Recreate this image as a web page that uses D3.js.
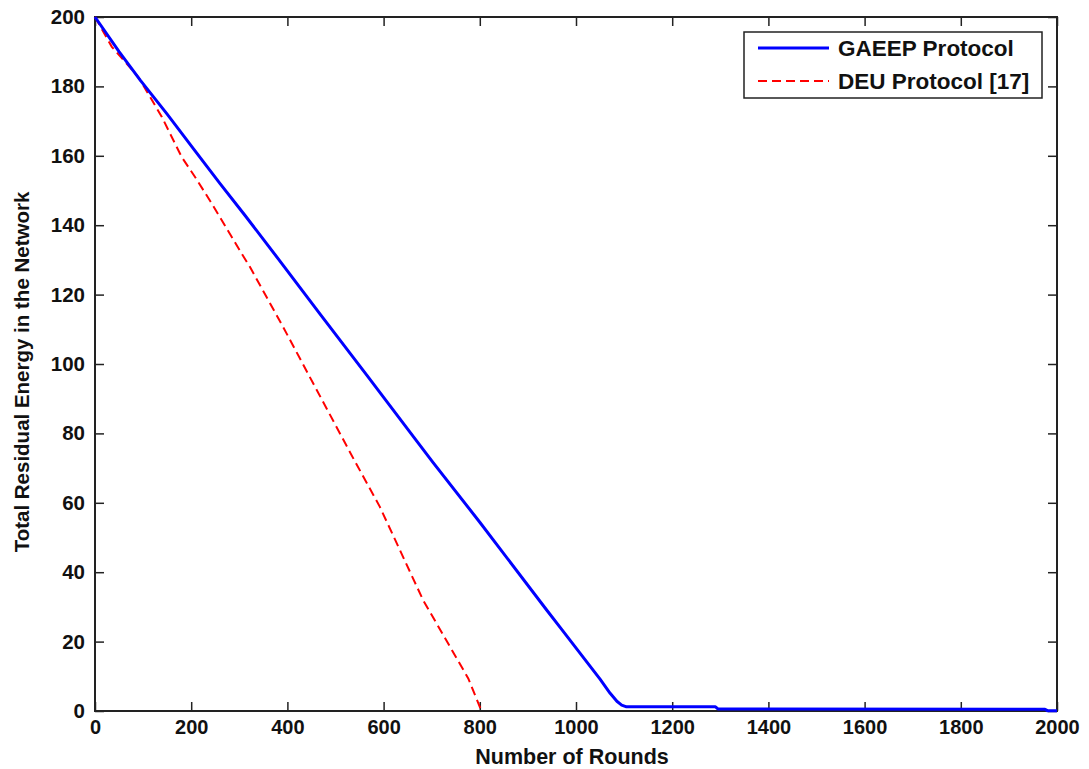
<!DOCTYPE html>
<html>
<head>
<meta charset="utf-8">
<script src="https://cdn.jsdelivr.net/npm/d3@7"></script>
<style>
  html, body { margin: 0; padding: 0; background: #fff; }
  svg text { font-family: "Liberation Sans", Arial, sans-serif; font-weight: bold; fill: #111; }
</style>
</head>
<body>
<svg id="chart" width="1089" height="769"></svg>
<script>
// Total residual energy vs. rounds for the two protocols
const seriesNames = ["GAEEP Protocol", "DEU Protocol [17]"];
const gaeepRounds = [0, 50, 94, 150, 208, 260, 312, 381, 468, 565, 669, 703, 800, 939, 967, 1050, 1071, 1085, 1095, 1105, 1290, 1295, 1975, 1980, 2000];
const gaeepEnergy = [200, 190, 181.8, 172, 161.4, 152, 142.8, 130.3, 114.4, 96.8, 77.8, 71.6, 54.4, 29.1, 24.1, 9.2, 5.1, 2.8, 1.7, 1.2, 1.2, 0.6, 0.5, 0.1, 0.1];
const deuRounds = [0, 35, 90, 139, 180, 208, 243, 305, 322, 391, 461, 537, 592, 682, 776, 800, 803];
const deuEnergy = [200, 191.4, 182.7, 171.2, 159.7, 153.9, 146.2, 131.8, 128, 110.7, 92.5, 72.8, 58.9, 32, 9.4, 1.2, 0];
const xTicks = [0, 200, 400, 600, 800, 1000, 1200, 1400, 1600, 1800, 2000];
const yTicks = [0, 20, 40, 60, 80, 100, 120, 140, 160, 180, 200];

const svg = d3.select("#chart");
const plotLeft = 95, plotTop = 17, plotRight = 1057, plotBottom = 711;

const x = d3.scaleLinear().domain([0, 2000]).range([plotLeft, plotRight]);
const y = d3.scaleLinear().domain([0, 200]).range([plotBottom, plotTop]);

const tickLen = 9;

// Axes: ticks pointing inward on all four sides
const axisStyle = g => {
  g.select(".domain").remove();
  g.selectAll(".tick line").attr("stroke", "#222").attr("stroke-width", 1.5);
};

svg.append("g").attr("transform", `translate(0,${plotBottom})`)
  .call(d3.axisBottom(x).tickValues(xTicks).tickFormat(d3.format("d"))
    .tickSizeInner(-tickLen).tickSizeOuter(0).tickPadding(9))
  .call(axisStyle)
  .call(g => g.selectAll(".tick text").attr("font-size", 20).attr("fill", "#111"));

svg.append("g").attr("transform", `translate(0,${plotTop})`)
  .call(d3.axisTop(x).tickValues(xTicks).tickSizeInner(-tickLen).tickSizeOuter(0).tickFormat(""))
  .call(axisStyle);

svg.append("g").attr("transform", `translate(${plotLeft},0)`)
  .call(d3.axisLeft(y).tickValues(yTicks).tickFormat(d3.format("d"))
    .tickSizeInner(-tickLen).tickSizeOuter(0).tickPadding(10))
  .call(axisStyle)
  .call(g => g.selectAll(".tick text").attr("font-size", 20.5).attr("fill", "#111"));

svg.append("g").attr("transform", `translate(${plotRight},0)`)
  .call(d3.axisRight(y).tickValues(yTicks).tickSizeInner(-tickLen).tickSizeOuter(0).tickFormat(""))
  .call(axisStyle);

// Plot frame
svg.append("rect").attr("x", plotLeft).attr("y", plotTop)
  .attr("width", plotRight - plotLeft).attr("height", plotBottom - plotTop)
  .attr("fill", "none").attr("stroke", "#222").attr("stroke-width", 2);

// Series lines, drawn over the frame
const line = d3.line().x(d => x(d[0])).y(d => y(d[1]));
const gaeep = gaeepRounds.map((r, i) => [r, gaeepEnergy[i]]);
const deu = deuRounds.map((r, i) => [r, deuEnergy[i]]);

svg.append("path").datum(deu).attr("d", line)
  .attr("fill", "none").attr("stroke", "#ff0000").attr("stroke-width", 2)
  .attr("stroke-dasharray", "9,5");
svg.append("path").datum(gaeep).attr("d", line)
  .attr("fill", "none").attr("stroke", "#0000ff").attr("stroke-width", 3)
  .attr("stroke-linejoin", "round");

// Axis titles
svg.append("text").attr("x", 572).attr("y", 764)
  .attr("text-anchor", "middle").attr("font-size", 21.5).text("Number of Rounds");
svg.append("text").attr("transform", `translate(29,372) rotate(-90)`)
  .attr("text-anchor", "middle").attr("font-size", 20.5).text("Total Residual Energy in the Network");

// Legend
const lg = svg.append("g");
lg.append("rect").attr("x", 744).attr("y", 32).attr("width", 298).attr("height", 66)
  .attr("fill", "#fff").attr("stroke", "#222").attr("stroke-width", 1.5);
const legendRows = [
  { name: seriesNames[0], color: "#0000ff", width: 3, dash: null, cy: 48 },
  { name: seriesNames[1], color: "#ff0000", width: 2, dash: "9,5", cy: 81 }
];
legendRows.forEach(r => {
  lg.append("line").attr("x1", 758).attr("x2", 829).attr("y1", r.cy).attr("y2", r.cy)
    .attr("stroke", r.color).attr("stroke-width", r.width).attr("stroke-dasharray", r.dash);
  lg.append("text").attr("x", 838).attr("y", r.cy).attr("dy", "0.36em")
    .attr("font-size", 22.5).text(r.name);
});
</script>
</body>
</html>
